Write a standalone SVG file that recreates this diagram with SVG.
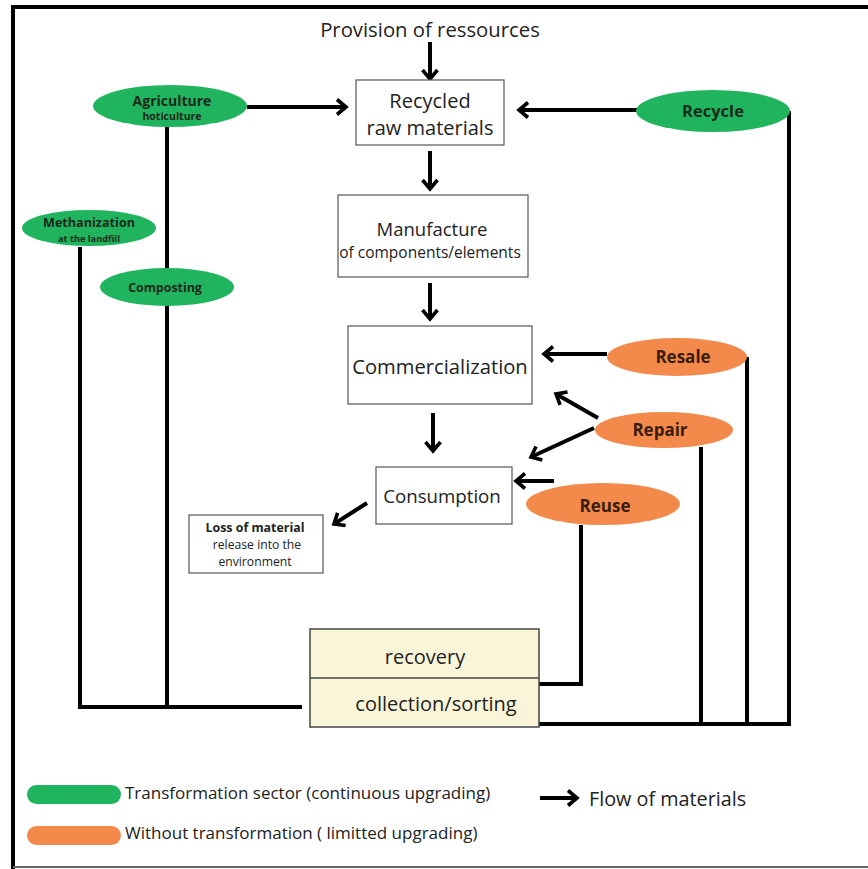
<svg xmlns="http://www.w3.org/2000/svg" width="868" height="869" viewBox="0 0 868 869">
<style>
text{font-family:"Open Sans","Noto Sans","Liberation Sans",sans-serif;fill:#222;text-anchor:middle;dominant-baseline:central}
.box{fill:#fff;stroke:#555;stroke-width:1.2}
.g{fill:#20b45e}
.o{fill:#f38a4b}
.lb{font-weight:bold;fill:#1c2a1c}
.lo{font-weight:bold;fill:#3a1c0c}
.c{fill:none;stroke:#000;stroke-width:4}
.leg{text-anchor:start}
</style>
<defs>
<marker id="ah" viewBox="0 0 14 18" refX="11" refY="9" markerWidth="14" markerHeight="18" markerUnits="userSpaceOnUse" orient="auto">
<path d="M2,1.5 L11,9 L2,16.5" fill="none" stroke="#000" stroke-width="3.6"/>
</marker>
</defs>
<rect width="868" height="869" fill="#fff"/>
<g id="frame">
<line x1="13" y1="7" x2="868" y2="7" stroke="#000" stroke-width="4"/>
<line x1="13" y1="5" x2="13" y2="869" stroke="#000" stroke-width="4"/>
<line x1="13" y1="867" x2="868" y2="867" stroke="#666" stroke-width="2"/>
</g>
<g id="connectors">
<line class="c" x1="430" y1="42" x2="430" y2="79" marker-end="url(#ah)"/>
<line class="c" x1="430" y1="151" x2="430" y2="189" marker-end="url(#ah)"/>
<line class="c" x1="430" y1="283" x2="430" y2="319" marker-end="url(#ah)"/>
<line class="c" x1="433" y1="413" x2="433" y2="451" marker-end="url(#ah)"/>
<line class="c" x1="367" y1="503" x2="334" y2="524" marker-end="url(#ah)"/>
<line class="c" x1="247" y1="107" x2="346" y2="107" marker-end="url(#ah)"/>
<line class="c" x1="637" y1="110" x2="519" y2="110" marker-end="url(#ah)"/>
<line class="c" x1="607" y1="354" x2="544" y2="354" marker-end="url(#ah)"/>
<line class="c" x1="598" y1="418" x2="556" y2="394" marker-end="url(#ah)"/>
<line class="c" x1="594" y1="428" x2="531" y2="457" marker-end="url(#ah)"/>
<line class="c" x1="554" y1="481" x2="516" y2="481" marker-end="url(#ah)"/>
<polyline class="c" points="167,127 167,707"/>
<polyline class="c" points="80,247 80,707 302,707"/>
<polyline class="c" points="581,525 581,684 539,684"/>
<polyline class="c" points="789,111 789,724 539,724"/>
<line class="c" x1="747" y1="357" x2="747" y2="724"/>
<line class="c" x1="701" y1="447" x2="701" y2="724"/>
</g>
<g id="provision"><text x="430" y="29" font-size="20.3">Provision of ressources</text></g>
<g id="recycled">
<rect class="box" x="356" y="80" width="148" height="65"/>
<text x="430" y="100" font-size="20">Recycled</text>
<text x="430" y="127" font-size="20">raw materials</text>
</g>
<g id="manufacture">
<rect class="box" x="338" y="195" width="190" height="82"/>
<text x="432" y="228" font-size="18.5">Manufacture</text>
<text x="430" y="252" font-size="15.5">of components/elements</text>
</g>
<g id="commercialization">
<rect class="box" x="348" y="326" width="184" height="78"/>
<text x="440" y="366" font-size="20.2">Commercialization</text>
</g>
<g id="consumption">
<rect class="box" x="376" y="467" width="136" height="57"/>
<text x="442" y="495" font-size="18.7">Consumption</text>
</g>
<g id="loss">
<rect class="box" x="189" y="515" width="134" height="58"/>
<text x="255" y="527" font-size="12.4" font-weight="bold">Loss of material</text>
<text x="257" y="544" font-size="12.2">release into the</text>
<text x="255" y="561" font-size="12.2">environment</text>
</g>
<g id="agriculture">
<ellipse class="g" cx="170" cy="106" rx="77" ry="21"/>
<text class="lb" x="172" y="100" font-size="14">Agriculture</text>
<text class="lb" x="172" y="116" font-size="10.5">hoticulture</text>
</g>
<g id="methanization">
<ellipse class="g" cx="89" cy="228" rx="67" ry="18"/>
<text class="lb" x="89" y="222" font-size="12.6">Methanization</text>
<text class="lb" x="89" y="238" font-size="9.2">at the landfill</text>
</g>
<g id="composting">
<ellipse class="g" cx="167" cy="287" rx="67" ry="19"/>
<text class="lb" x="165" y="287" font-size="12.4">Composting</text>
</g>
<g id="recycle">
<ellipse class="g" cx="713" cy="111" rx="77" ry="21"/>
<text class="lb" x="713" y="110" font-size="16.5">Recycle</text>
</g>
<g id="resale">
<ellipse class="o" cx="677" cy="357" rx="70" ry="19"/>
<text class="lo" x="683" y="356" font-size="17">Resale</text>
</g>
<g id="repair">
<ellipse class="o" cx="664" cy="430" rx="69" ry="18"/>
<text class="lo" x="660" y="429" font-size="17">Repair</text>
</g>
<g id="reuse">
<ellipse class="o" cx="603" cy="504" rx="77" ry="21"/>
<text class="lo" x="605" y="505" font-size="17">Reuse</text>
</g>
<g id="recovery">
<rect x="310" y="629" width="229" height="98" fill="#faf5d9" stroke="#444" stroke-width="1.5"/>
<line x1="310" y1="678" x2="539" y2="678" stroke="#444" stroke-width="1.5"/>
<text x="425" y="656" font-size="20">recovery</text>
<text x="436" y="703" font-size="20">collection/sorting</text>
</g>
<g id="legend">
<rect class="g" x="27" y="785" width="94" height="19" rx="9.5"/>
<text class="leg" x="125" y="792" font-size="17">Transformation sector (continuous upgrading)</text>
<rect class="o" x="27" y="826" width="94" height="19" rx="9.5"/>
<text class="leg" x="125" y="832" font-size="17">Without transformation ( limitted upgrading)</text>
<line class="c" x1="540" y1="798" x2="577" y2="798" marker-end="url(#ah)"/>
<text class="leg" x="589" y="798" font-size="19.8">Flow of materials</text>
</g>
</svg>
